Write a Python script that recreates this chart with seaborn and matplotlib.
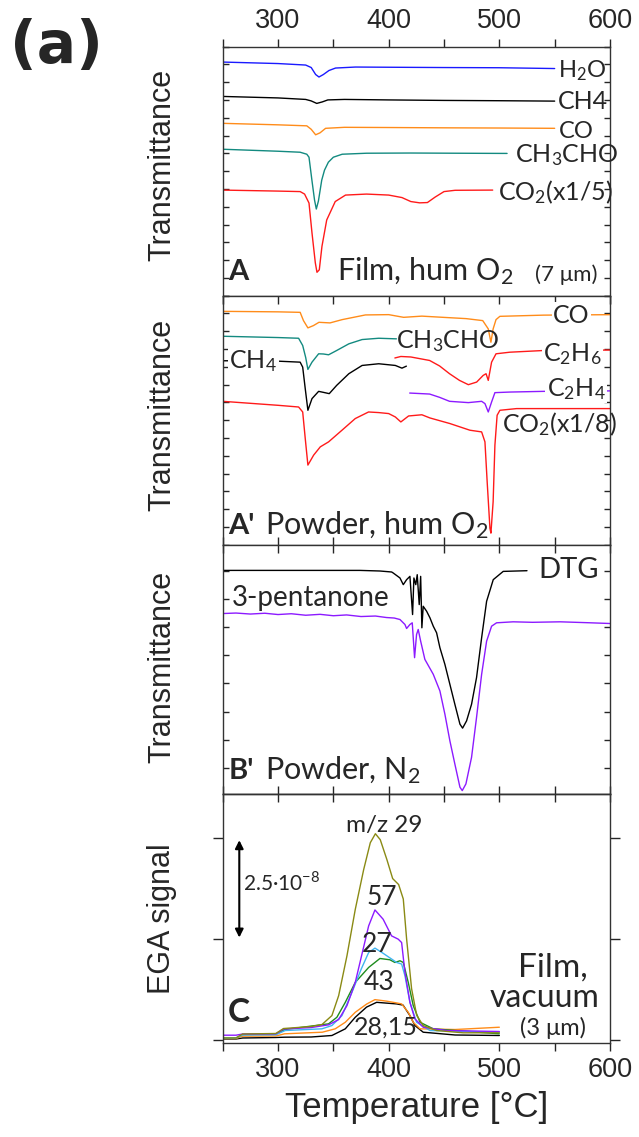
import matplotlib
matplotlib.use("Agg")
import matplotlib.pyplot as plt
import seaborn as sns
import numpy as np
from matplotlib.ticker import MultipleLocator, FixedLocator

# --- DATA (temperature in C, signal in arbitrary panel units, offset curves) ---
# Panel A: film, humid O2
h2o_T = [250, 300, 325, 330, 334, 337, 341, 346, 352, 370, 400, 450, 500, 550]
h2o_y = [234.5, 233, 231.5, 229, 222, 219.5, 222, 226, 228.5, 229.5, 229.3, 229, 228.8, 228]
ch4_T = [250, 300, 325, 330, 335, 340, 345, 360, 400, 450, 500, 550]
ch4_y = [200, 198.5, 197, 195.5, 193, 194.5, 196.5, 197, 196.5, 196, 195.7, 195.3]
co_T = [250, 300, 326, 330, 334, 338, 343, 360, 400, 450, 500, 550]
co_y = [173, 171.5, 170.5, 167, 161.5, 163.5, 168, 169, 168.8, 168.5, 168.3, 168]
ch3cho_T = [250, 300, 320, 326, 328, 330.5, 333, 334.6, 336.5, 339.5, 342, 345.5, 350, 358, 380, 420, 460, 507]
ch3cho_y = [147, 145, 144, 142, 139, 117, 96, 87, 95, 116, 126, 134, 139, 142, 143, 143.2, 143, 142.8]
co2_T = [250, 300, 320, 324, 328, 330.7, 333.7, 335.2, 337.3, 339.7, 344, 351.7, 361, 380, 400, 412, 420,
         428, 435, 442, 450, 460, 494]
co2_y = [106, 105, 104.5, 102, 93, 63, 33, 23.5, 26, 49.5, 76, 94.5, 101, 102, 101, 98.5, 94.5,
         93.2, 93.5, 99, 104.5, 105.8, 106]

# Panel A': powder, humid O2
pco_T = [250, 300, 320, 323, 327, 332, 337, 347, 358, 379, 400, 413.5, 430, 449, 470, 485, 490, 492.4,
         494.4, 497, 500.5, 540, 605]
pco_y = [234.3, 233.8, 233.3, 225, 217.7, 220, 223.3, 222.7, 226, 230.7, 231, 228.3, 229.5, 228.3, 227,
         225, 216.7, 203.3, 216.7, 226, 229.3, 230.5, 231]
pch3cho_T = [250, 300, 318.6, 322.3, 325, 327, 330.7, 336.7, 341, 345.7, 353, 364, 376, 391, 407]
pch3cho_y = [209.3, 208, 207.3, 200, 188, 176, 183.3, 191.7, 191.5, 190.7, 195, 201.7, 206, 207.3, 206.7]
pch4_T = [250, 292, 300, 320, 322.3, 324.6, 327, 330.7, 336.7, 341, 346.3, 353, 364, 376, 391, 406, 412, 416]
pch4_y = [184.7, 184.7, 184.3, 183.3, 178.3, 156.7, 135, 146.7, 154, 153, 151.7, 160, 171.7, 180, 181.7,
          180, 177.3, 179.3]
pc2h6_T = [405.6, 411, 420, 437, 446, 455, 464, 472, 479.5, 485.4, 488, 490, 493, 497, 509.5, 540, 605]
pc2h6_y = [187.5, 189, 188.5, 185, 179.5, 171.7, 165, 160.7, 163.3, 170, 171.7, 165, 183.3, 191.7, 193.3,
           195, 195.5]
pc2h4_T = [419, 437, 446, 455, 472, 484, 487, 490, 493, 496, 509.5, 540, 605]
pc2h4_y = [152.3, 151.3, 148, 144, 142.7, 144, 141.7, 133.3, 143.3, 152.7, 153.3, 154, 154.5]
pco2_T = [250, 300, 318.6, 322.3, 324.6, 327, 332.2, 338.2, 345.7, 357.8, 369.8, 381.8, 391, 400, 406, 411,
          418, 430, 437.3, 455.3, 473.4, 484, 487, 489, 491.5, 492.4, 494.4, 496, 498, 500.5, 515.6, 605]
pco2_y = [144, 140, 138.3, 133.3, 106.7, 80, 90, 98.3, 103.3, 115, 126.7, 133.3, 132.7, 131.7, 128.3, 123.3,
          129.3, 130.5, 127.3, 121.7, 115, 113.3, 103.3, 63.3, 16.7, 11.7, 43.3, 100, 130, 135, 136.7, 136.7]

# Panel B': powder, N2
dtg_T = [250, 374, 392, 402.7, 404.1, 410.2, 413.2, 416.2, 419.2, 421.6, 422.8, 424.5, 425.8, 427.6, 428.9,
         430, 431.2, 434.3, 437.3, 440.3, 443.3, 446.3, 450.8, 455.3, 459.8, 464.4, 466.8, 470.4, 474.9,
         479.4, 484, 488.5, 494.5, 503.5, 525]
dtg_y = [224.3, 224.3, 223.7, 222.7, 221.7, 216.7, 210, 215, 218.3, 180, 216.7, 210, 220, 190, 218.3,
         166.7, 188.3, 183.3, 176.7, 168.3, 161.7, 146.7, 130, 110, 90, 70, 66, 73.3, 90,
         116.7, 156.7, 193.3, 215, 223.3, 224]
pent_T = [250, 262, 275, 288, 300, 312, 325, 338, 350, 362, 375, 388, 398, 405, 410.2, 414.7, 416.2, 419.2,
          421.3, 423.4, 425.2, 426.7, 428.9, 432.7, 440.3, 446.3, 450.8, 455.3, 459.8, 464.4, 466.5, 469.8,
          474.9, 479.4, 484, 488.5, 493, 497.5, 512.5, 530, 555, 580, 600]
pent_y = [181, 181.5, 180.5, 181.3, 180, 180.8, 179.3, 180.2, 178.8, 179.6, 178, 178.5, 177, 176.5, 175, 170,
          166, 170, 171.7, 136.7, 160, 165, 153.3, 135, 120, 103.3, 80, 53.3, 30, 6.7, 3.3, 10,
          36.7, 76.7, 120, 153.3, 168.3, 171.7, 172.7, 172.2, 172.7, 171.8, 171]

# Panel C: EGA, film, vacuum
mz29_T = [250, 262, 268, 298, 305, 330, 339.7, 348.7, 354.8, 362.3, 369.8, 377.4, 383.4, 388, 392.4, 398.4,
          403.6, 409, 413.2, 416.2, 420.7, 425.3, 431.2, 443.3, 467.3, 500]
mz29_y = [5, 5, 9, 9.5, 14.5, 16.5, 18.5, 27.5, 47.5, 87.5, 134, 174, 201, 210, 204, 184,
          165, 159, 144.5, 104.5, 54.5, 27.8, 17.5, 12.5, 10.2, 10.2]
mz57_T = [250, 262, 268, 298, 305, 330, 345.7, 354.8, 362.3, 369.8, 381.9, 387.6, 395, 402.6, 408.6, 411.7,
          414.7, 419.2, 423.7, 431.2, 452.3, 500]
mz57_y = [7.8, 7.8, 9, 9.2, 14, 15.5, 18.2, 23.5, 37.5, 60.8, 117.5, 133.5, 124.2, 107.5, 104.2, 100.8,
          70.8, 40.8, 24.2, 15.8, 12.5, 11.5]
mz27_T = [250, 262, 268, 298, 306.5, 339.7, 348.7, 357.8, 366.8, 375.2, 381.9, 387.6, 395, 407.2, 411.7,
          414.7, 419.2, 425.2, 437.3, 500]
mz27_y = [5, 5, 8, 8.2, 12.5, 14.2, 17.5, 27.5, 50.8, 74.2, 90.8, 95.2, 90, 80.8, 79.2,
          67.5, 40.8, 20.8, 12.5, 10.8]
mz43_T = [250, 262, 268, 298, 306, 345.7, 353.2, 360.8, 369.8, 381.9, 392.1, 401.1, 405.6, 410.2, 413.2,
          417.7, 422.2, 428.3, 440.3, 500]
mz43_y = [5, 5, 8.5, 9, 13.5, 19.2, 25.8, 40.8, 60.8, 75.8, 84.8, 83.5, 80.8, 82.5, 80.8,
          60.8, 37.5, 20.8, 14.2, 9.2]
mz28_T = [250, 262, 268, 298, 306, 340, 351.7, 360.8, 369.8, 380, 387.6, 398, 407.2, 411.7, 417.7, 422.2,
          428.3, 460, 500]
mz28_y = [4.5, 4.5, 6.8, 7, 9.2, 10.8, 14.2, 20.8, 30.8, 39, 43.5, 42, 40.2, 39.2, 30.8, 20.8,
          14.2, 13.5, 15.8]
mz15_T = [250, 262, 268, 298, 306, 330, 348.7, 360.8, 369.8, 380, 389.1, 398, 407.2, 413, 419.2, 423.7,
          431.2, 460, 500]
mz15_y = [4, 4, 5, 5.5, 5.8, 6, 7.5, 14.2, 25.8, 36, 40.8, 40, 39.2, 38, 27.5, 17.5,
          10.8, 8, 7.5]

BLUE = '#1a1aff'
ORANGE = '#ff8c1a'
TEAL = '#138a80'
RED = '#ff1a1a'
PURPLE = '#8c1aff'
OLIVE = '#8a8a14'
SKY = '#40b4f0'
GREEN = '#1e8c1e'

sns.set_theme(style="ticks")
plt.rcParams['font.family'] = ['Liberation Sans', 'DejaVu Sans']
plt.rcParams['mathtext.fontset'] = 'custom'
plt.rcParams['mathtext.rm'] = 'Lato'
plt.rcParams['axes.edgecolor'] = '#333333'
plt.rcParams['axes.linewidth'] = 1.0

ANN = ['Lato', 'DejaVu Sans']


def draw(ax, T, y, color):
    sns.lineplot(x=T, y=y, ax=ax, color=color, lw=1.0, estimator=None, sort=False)


def note(ax, T, y, s, size=17, bg=False, **kw):
    box = dict(facecolor='white', edgecolor='none', pad=1.0) if bg else None
    ax.text(T, y, s, fontsize=size, family=ANN, va='baseline', bbox=box, **kw)


fig, axes = plt.subplots(4, 1, figsize=(6.39, 11.37), dpi=100, sharex=True,
                         gridspec_kw={'hspace': 0})
fig.subplots_adjust(left=0.3485, right=0.9546, top=0.959, bottom=0.0827)
axA, axA2, axB2, axC = axes

# panel A
draw(axA, h2o_T, h2o_y, BLUE)
draw(axA, ch4_T, ch4_y, 'black')
draw(axA, co_T, co_y, ORANGE)
draw(axA, ch3cho_T, ch3cho_y, TEAL)
draw(axA, co2_T, co2_y, RED)
note(axA, 553, 219.5, 'H$\\mathregular{_2}$O')
note(axA, 553, 187.2, 'CH4', size=18)
note(axA, 554, 158.2, 'CO')
note(axA, 514, 133.8, 'CH$\\mathregular{_3}$CHO', size=18)
note(axA, 498.5, 96.2, 'CO$\\mathregular{_2}$(x1/5)', size=18)
note(axA, 254.5, 15.5, 'A', size=21, fontweight='bold')
note(axA, 353, 15.5, 'Film, hum O$\\mathregular{_2}$', size=22)
note(axA, 532, 14.8, '(7 \u03bcm)', size=16)

# panel A'
draw(axA2, pco_T, pco_y, ORANGE)
draw(axA2, pch3cho_T, pch3cho_y, TEAL)
draw(axA2, pch4_T, pch4_y, 'black')
draw(axA2, pc2h6_T, pc2h6_y, RED)
draw(axA2, pc2h4_T, pc2h4_y, PURPLE)
draw(axA2, pco2_T, pco2_y, RED)
note(axA2, 548.6, 222.7, 'CO', size=18, bg=True)
note(axA2, 407, 197.7, 'CH$\\mathregular{_3}$CHO', size=18)
note(axA2, 539.6, 184.3, 'C$\\mathregular{_2}$H$\\mathregular{_6}$', size=18, bg=True)
note(axA2, 542.7, 149.3, 'C$\\mathregular{_2}$H$\\mathregular{_4}$', size=18, bg=True)
note(axA2, 502, 112.7, 'CO$\\mathregular{_2}$(x1/8)', size=18)
note(axA2, 256, 177.7, 'CH$\\mathregular{_4}$', size=18, bg=True)
note(axA2, 254.5, 11, "A'", size=21, fontweight='bold')
note(axA2, 288, 11, 'Powder, hum O$\\mathregular{_2}$', size=22)

# panel B'
draw(axB2, dtg_T, dtg_y, 'black')
draw(axB2, pent_T, pent_y, PURPLE)
note(axB2, 535, 216.5, 'DTG', size=21)
note(axB2, 258, 188.2, '3-pentanone', size=20)
note(axB2, 255.5, 14.8, "B'", size=21, fontweight='bold')
note(axB2, 288, 14.8, 'Powder, N$\\mathregular{_2}$', size=22)

# panel C
draw(axC, mz15_T, mz15_y, 'black')
draw(axC, mz28_T, mz28_y, ORANGE)
draw(axC, mz43_T, mz43_y, GREEN)
draw(axC, mz27_T, mz27_y, SKY)
draw(axC, mz57_T, mz57_y, PURPLE)
draw(axC, mz29_T, mz29_y, OLIVE)
note(axC, 395.7, 211.3, 'm/z 29', size=17.5, ha='center')
note(axC, 393.6, 138, '57', size=19, ha='center')
note(axC, 389.8, 91.3, '27', size=19, ha='center')
note(axC, 391.2, 53, '43', size=19, ha='center')
note(axC, 397.8, 8, '28,15', size=18, ha='center')
note(axC, 254.5, 21.3, 'C', size=24, fontweight='bold')
note(axC, 548.6, 66.3, 'Film,', size=24, ha='center')
note(axC, 540.5, 36.3, 'vacuum', size=23, ha='center')
note(axC, 548.6, 8, '(3 \u03bcm)', size=17, ha='center')
note(axC, 268.3, 153, '2.5\u00b710$^{\\mathregular{-8}}$', size=15)
axC.annotate('', xy=(265, 206.3), xytext=(265, 103),
             arrowprops=dict(arrowstyle='<|-|>', color='black', lw=1.5, mutation_scale=12))

# axes cosmetics
for ax in axes:
    ax.set_xlim(250, 600)
    ax.set_ylim(0, 250)
    ax.xaxis.set_major_locator(MultipleLocator(100))
    ax.xaxis.set_minor_locator(MultipleLocator(50))
    ax.tick_params(axis='x', which='both', direction='in', top=True, bottom=True, length=6, width=1,
                   labelbottom=False, labeltop=False, labelsize=19.5)
    ax.tick_params(axis='y', which='both', direction='in', left=True, right=True, length=4, width=1,
                   labelleft=False)
    ax.set_ylabel('Transmittance', fontsize=22)
    ax.set_xlabel('')

for ax in (axA, axA2):
    ax.yaxis.set_major_locator(MultipleLocator(250 / 14))
axB2.yaxis.set_major_locator(FixedLocator(np.arange(26, 250, 28.3)))
axC.yaxis.set_major_locator(FixedLocator([3, 104.5, 206]))
axC.tick_params(axis='y', direction='out', length=7)

# top labels on panel A: ticks point outward (bottom ones then reach into A', same look)
axA.tick_params(axis='x', which='both', direction='out', labeltop=True, pad=3)

# bottom labels on panel C, outward ticks
axC.tick_params(axis='x', which='both', direction='out', top=False, labelbottom=True, pad=4)
topC = axC.secondary_xaxis('top')
topC.xaxis.set_major_locator(MultipleLocator(100))
topC.xaxis.set_minor_locator(MultipleLocator(50))
topC.tick_params(axis='x', which='both', direction='in', length=6, width=1, labeltop=False)
axC.set_xlabel('Temperature [\u00b0C]', fontsize=25, labelpad=6)
axC.set_ylabel('EGA signal', fontsize=22)

label_y = [0.524, 0.52, 0.51, 0.5]
for ax, ly in zip(axes, label_y):
    ax.yaxis.set_label_coords(-0.118, ly)

fig.text(10 / 639, 1 - 18 / 1137, '(a)', ha='left', va='top', fontsize=42, fontweight='bold',
         family='DejaVu Sans')

fig.savefig('out.png', dpi=100)
